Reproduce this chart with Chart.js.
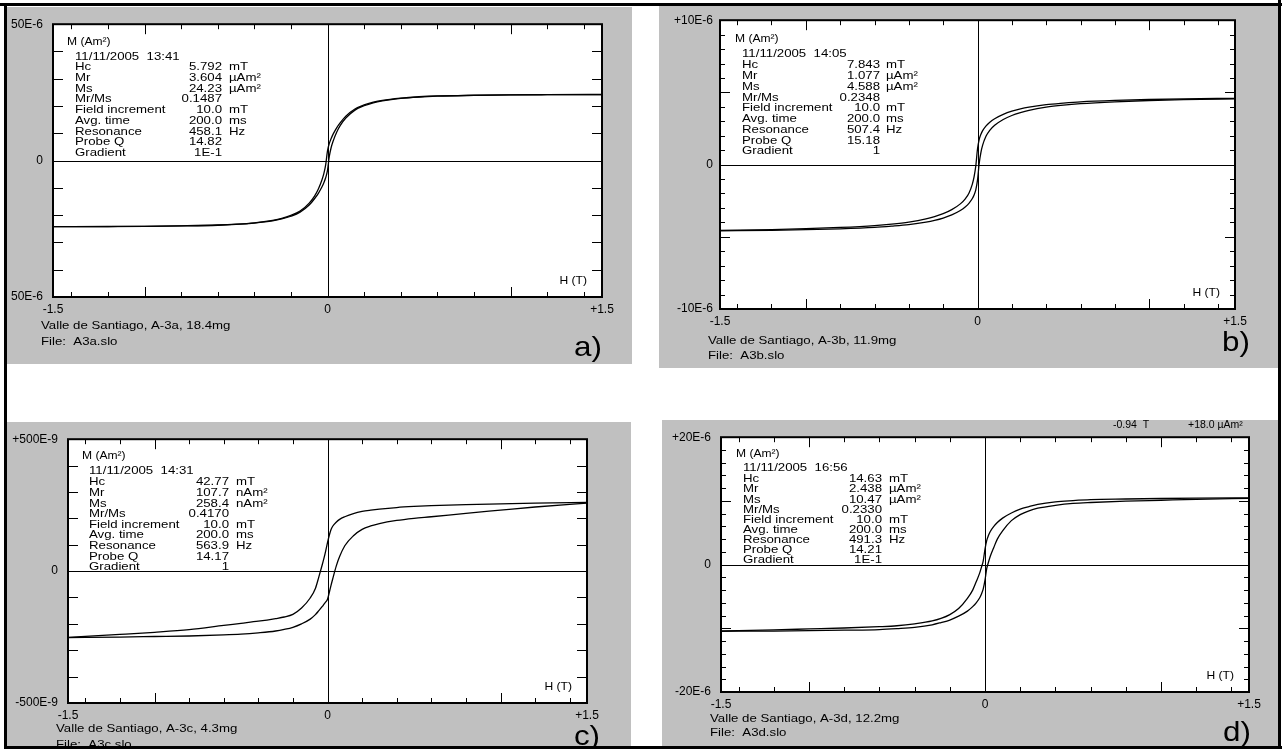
<!DOCTYPE html>
<html>
<head>
<meta charset="utf-8">
<title>Hysteresis loops, Valle de Santiago A-3</title>
<script src="https://cdn.jsdelivr.net/npm/chart.js@4.4.1/dist/chart.umd.min.js"></script>
<style>
  html, body { margin: 0; padding: 0; background: #fff; }
  body { width: 1282px; height: 749px; position: relative; overflow: hidden; }
  .panel { position: absolute; background: #c0c0c0; }
  .panel canvas { display: block; }
  .rule { position: absolute; background: #000; }
</style>
</head>
<body>
<div class="rule" style="left:0;top:3px;width:1282px;height:3px"></div>
<div class="rule" style="left:4px;top:3px;width:3px;height:746px"></div>
<div class="rule" style="left:1278px;top:0;width:3px;height:749px"></div>
<div class="rule" style="left:4px;top:746px;width:1278px;height:3px"></div>

<div class="panel" style="left:7px;top:7px;width:625px;height:357px"><canvas id="loopA" width="625" height="357"></canvas></div>
<div class="panel" style="left:659px;top:6px;width:619px;height:362px"><canvas id="loopB" width="619" height="362"></canvas></div>
<div class="panel" style="left:7px;top:422px;width:624px;height:324px"><canvas id="loopC" width="624" height="324"></canvas></div>
<div class="panel" style="left:662px;top:420px;width:616px;height:326px"><canvas id="loopD" width="616" height="326"></canvas></div>

<script>
// Applied field H (T) at which both branches of every loop are sampled
const fieldT = [-1.5, -1.2, -1.0, -0.8, -0.6, -0.5, -0.4, -0.3, -0.25, -0.2, -0.15, -0.1, -0.07, -0.05, -0.03, -0.02, -0.01,
                0, 0.01, 0.02, 0.03, 0.05, 0.07, 0.1, 0.15, 0.2, 0.25, 0.3, 0.4, 0.5, 0.6, 0.8, 1.0, 1.2, 1.5];

// A-3a, moment in µAm²
const a3aDescending = [-24.2, -24.15, -24.1, -23.9, -23.6, -23.3, -22.8, -21.9, -21.2, -20.1, -18.5, -15.6, -12.9, -10.4, -7.0, -4.8, -1.6,
                       3.6, 6.3, 8.1, 9.6, 12.0, 13.9, 16.3, 18.9, 20.4, 21.4, 22.1, 22.9, 23.4, 23.7, 23.95, 24.1, 24.2, 24.23];
const a3aAscending  = [-24.23, -24.2, -24.1, -23.95, -23.7, -23.4, -22.9, -22.1, -21.4, -20.4, -18.9, -16.3, -13.9, -12.0, -9.6, -8.1, -6.3,
                       -3.6, 1.6, 4.8, 7.0, 10.4, 12.9, 15.6, 18.5, 20.1, 21.2, 21.9, 22.8, 23.3, 23.6, 23.9, 24.1, 24.15, 24.2];

// A-3b, moment in µAm²
const a3bDescending = [-4.56, -4.5, -4.44, -4.35, -4.22, -4.12, -3.98, -3.76, -3.6, -3.4, -3.12, -2.72, -2.35, -1.98, -1.35, -0.85, -0.1,
                       1.08, 1.75, 2.1, 2.35, 2.68, 2.92, 3.18, 3.48, 3.7, 3.86, 3.98, 4.15, 4.26, 4.35, 4.45, 4.51, 4.55, 4.59];
const a3bAscending  = [-4.59, -4.55, -4.51, -4.45, -4.35, -4.26, -4.15, -3.98, -3.86, -3.7, -3.48, -3.18, -2.92, -2.68, -2.35, -2.1, -1.75,
                       -1.08, 0.1, 0.85, 1.35, 1.98, 2.35, 2.72, 3.12, 3.4, 3.6, 3.76, 3.98, 4.12, 4.22, 4.35, 4.44, 4.5, 4.56];

// A-3c, moment in nAm²
const a3cDescending = [-251, -240, -232, -222, -206, -198, -190, -180, -174, -164, -140, -102, -66, -22, 25, 50, 78,
                       108, 135, 157, 170, 185, 196, 206, 218, 226, 231, 235, 241, 245, 248, 252, 255, 258, 260];
const a3cAscending  = [-252, -250, -248, -246, -242, -239, -234, -227, -221, -213, -200, -182, -165, -150, -134, -125, -117,
                       -107, -82, -55, -30, 18, 55, 96, 134, 158, 171, 180, 192, 200, 206, 219, 231, 243, 258];

// A-3d, moment in µAm²
const a3dDescending = [-10.4, -10.25, -10.1, -9.95, -9.75, -9.6, -9.3, -8.85, -8.45, -7.85, -6.9, -5.3, -4.0, -2.7, -1.3, -0.4, 0.6,
                       2.44, 3.8, 4.6, 5.2, 6.0, 6.6, 7.3, 8.1, 8.7, 9.1, 9.45, 9.85, 10.05, 10.2, 10.3, 10.38, 10.43, 10.47];
const a3dAscending  = [-10.47, -10.43, -10.38, -10.3, -10.2, -10.05, -9.85, -9.45, -9.1, -8.7, -8.1, -7.3, -6.6, -6.0, -5.2, -4.6, -3.8,
                       -2.44, -0.6, 0.4, 1.3, 2.7, 4.0, 5.3, 6.9, 7.85, 8.45, 8.85, 9.3, 9.6, 9.75, 9.95, 10.1, 10.25, 10.4];

// Axis tick labels
const fieldTickValues = [-1.5, 0, 1.5];
const fieldTickLabels = ['-1.5', '0', '+1.5'];
const a3aMomentTicks = [-50, 0, 50];
const a3aMomentLabels = ['50E-6', '0', '50E-6'];
const a3bMomentTicks = [-10, 0, 10];
const a3bMomentLabels = ['-10E-6', '0', '+10E-6'];
const a3cMomentTicks = [-500, 0, 500];
const a3cMomentLabels = ['-500E-9', '0', '+500E-9'];
const a3dMomentTicks = [-20, 0, 20];
const a3dMomentLabels = ['-20E-6', '0', '+20E-6'];

// Measurement summary block
const summaryLabels = ['Hc', 'Mr', 'Ms', 'Mr/Ms', 'Field increment', 'Avg. time', 'Resonance', 'Probe Q', 'Gradient'];
const a3aSummary = ['5.792', '3.604', '24.23', '0.1487', '10.0', '200.0', '458.1', '14.82', '1E-1'];
const a3bSummary = ['7.843', '1.077', '4.588', '0.2348', '10.0', '200.0', '507.4', '15.18', '1'];
const a3cSummary = ['42.77', '107.7', '258.4', '0.4170', '10.0', '200.0', '563.9', '14.17', '1'];
const a3dSummary = ['14.63', '2.438', '10.47', '0.2330', '10.0', '200.0', '491.3', '14.21', '1E-1'];
const microUnits = ['mT', 'µAm²', 'µAm²', '', 'mT', 'ms', 'Hz', '', ''];
const nanoUnits  = ['mT', 'nAm²', 'nAm²', '', 'mT', 'ms', 'Hz', '', ''];

const FONT = "'Liberation Sans', Arial, sans-serif";
const TEXT_SIZE = 11.5;
const STRETCH = 1.15;

function stretchedText(ctx, text, x, y, size, align, sx) {
  ctx.save();
  ctx.font = size + 'px ' + FONT;
  ctx.fillStyle = '#000';
  ctx.textAlign = align || 'left';
  ctx.textBaseline = 'middle';
  ctx.translate(x, y);
  ctx.scale(sx || STRETCH, 1);
  ctx.fillText(text, 0, 0);
  ctx.restore();
}

const panelSpecs = new Map();

// Frame, inward tick marks, zero lines and annotation text of one loop panel
const loopFrame = {
  id: 'loopFrame',
  beforeDraw(chart) {
    const { ctx, chartArea: a } = chart;
    ctx.save();
    ctx.fillStyle = '#fff';
    ctx.fillRect(a.left, a.top, a.right - a.left, a.bottom - a.top);
    ctx.restore();
  },
  beforeDatasetsDraw(chart) {
    const { ctx, chartArea: a, scales } = chart;
    const x0 = Math.round(scales.x.getPixelForValue(0)) + 0.5;
    const y0 = Math.round(scales.y.getPixelForValue(0)) + 0.5;
    ctx.save();
    ctx.strokeStyle = '#000';
    ctx.lineWidth = 1;
    ctx.beginPath();
    ctx.moveTo(x0, a.top); ctx.lineTo(x0, a.bottom);
    ctx.moveTo(a.left, y0); ctx.lineTo(a.right, y0);
    ctx.stroke();
    ctx.restore();
  },
  afterDatasetsDraw(chart) {
    const p = panelSpecs.get(chart.canvas);
    const { ctx, chartArea: a, scales } = chart;
    ctx.save();
    ctx.strokeStyle = '#000';
    ctx.lineWidth = 1;
    ctx.beginPath();
    // field ticks every 0.2 T, long ones at ±1 T
    for (let i = -7; i <= 7; i++) {
      if (i === 0) continue;
      const v = i * 0.2;
      const len = Math.abs(Math.abs(v) - 1) < 1e-9 ? p.majorLen : p.minorLen;
      const px = Math.round(scales.x.getPixelForValue(v)) + 0.5;
      ctx.moveTo(px, a.top); ctx.lineTo(px, a.top + len);
      ctx.moveTo(px, a.bottom); ctx.lineTo(px, a.bottom - len);
    }
    // moment ticks
    const n = Math.round(p.yMax / p.yMinorStep);
    for (let i = -n + 1; i < n; i++) {
      if (i === 0) continue;
      const v = i * p.yMinorStep;
      const r = Math.abs(v / p.yMajorStep);
      const len = Math.abs(r - Math.round(r)) < 1e-9 ? p.majorLen : p.minorLen;
      const py = Math.round(scales.y.getPixelForValue(v)) + 0.5;
      ctx.moveTo(a.left, py); ctx.lineTo(a.left + len, py);
      ctx.moveTo(a.right, py); ctx.lineTo(a.right - len, py);
    }
    ctx.stroke();
    ctx.lineWidth = 2;
    ctx.strokeRect(a.left, a.top, a.right - a.left, a.bottom - a.top);
    ctx.restore();

    // summary block
    const s = p.summary;
    stretchedText(ctx, 'M (Am²)', a.left + s.mX, a.top + s.mY, 10.5);
    stretchedText(ctx, p.date, a.left + s.labelX, a.top + s.dateY, TEXT_SIZE);
    summaryLabels.forEach((lab, i) => {
      const y = a.top + s.row0 + i * s.rowH;
      stretchedText(ctx, lab, a.left + s.labelX, y, TEXT_SIZE);
      stretchedText(ctx, p.values[i], a.left + s.valueX, y, TEXT_SIZE, 'right');
      if (p.units[i]) stretchedText(ctx, p.units[i], a.left + s.unitX, y, TEXT_SIZE);
    });
    stretchedText(ctx, 'H (T)', a.right - 15, a.bottom - 16, 11, 'right', 1.1);

    // sample caption and panel letter
    stretchedText(ctx, p.caption, p.footX - p.ox, p.footY1 - p.oy, TEXT_SIZE);
    stretchedText(ctx, p.file, p.footX - p.ox, p.footY2 - p.oy, TEXT_SIZE);
    stretchedText(ctx, p.letter, p.letterX - p.ox, p.letterY - p.oy, 28, 'right', 1.12);
    if (p.readout) {
      p.readout.forEach(r => stretchedText(ctx, r.text, r.x - p.ox, r.y - p.oy, 10, 'left', 1.05));
    }
  }
};

function buildPanel(p) {
  const canvas = document.getElementById(p.canvasId);
  panelSpecs.set(canvas, p);
  const branch = values => fieldT.map((h, i) => ({ x: h, y: values[i] }));
  const lineStyle = { showLine: true, borderColor: '#000', borderWidth: 1.3, pointRadius: 0,
                      cubicInterpolationMode: 'monotone', fill: false };
  return new Chart(canvas, {
    type: 'scatter',
    data: {
      datasets: [
        Object.assign({ label: 'descending', data: branch(p.descending) }, lineStyle),
        Object.assign({ label: 'ascending', data: branch(p.ascending) }, lineStyle)
      ]
    },
    options: {
      responsive: false,
      animation: false,
      devicePixelRatio: 1,
      events: [],
      layout: { padding: { left: 0, top: p.padTop, right: p.padRight, bottom: 0 } },
      plugins: { legend: { display: false }, tooltip: { enabled: false } },
      scales: {
        x: {
          type: 'linear', position: 'bottom', min: -1.5, max: 1.5,
          grid: { display: false, drawTicks: false, tickLength: 0 },
          border: { display: false },
          afterBuildTicks: s => { s.ticks = fieldTickValues.map(v => ({ value: v })); },
          afterFit: s => { s.height = p.axisHeight; },
          ticks: { autoSkip: false, maxRotation: 0, padding: 5, color: '#000',
                   font: { family: FONT, size: 12 },
                   callback: (v, i) => fieldTickLabels[i] }
        },
        y: {
          type: 'linear', position: 'left', min: -p.yMax, max: p.yMax,
          grid: { display: false, drawTicks: false, tickLength: 0 },
          border: { display: false },
          afterBuildTicks: s => { s.ticks = p.yTicks.map(v => ({ value: v })); },
          afterFit: s => { s.width = p.axisWidth; },
          ticks: { autoSkip: false, padding: p.yPad, color: '#000',
                   font: { family: FONT, size: 12 },
                   callback: (v, i) => p.yLabels[i] }
        }
      }
    },
    plugins: [loopFrame]
  });
}

buildPanel({
  canvasId: 'loopA', ox: 7, oy: 7,
  axisWidth: 46, padTop: 17, padRight: 30, axisHeight: 67, yPad: 10,
  yMax: 50, yMinorStep: 10, yMajorStep: 10, minorLen: 5, majorLen: 10,
  yTicks: a3aMomentTicks, yLabels: a3aMomentLabels,
  descending: a3aDescending, ascending: a3aAscending,
  date: '11/11/2005  13:41', values: a3aSummary, units: microUnits,
  summary: { mX: 14, mY: 18, labelX: 22, dateY: 33, row0: 43, rowH: 10.7, valueX: 169, unitX: 176 },
  caption: 'Valle de Santiago, A-3a, 18.4mg', file: 'File:  A3a.slo',
  footX: 41, footY1: 326, footY2: 342, letter: 'a)', letterX: 602, letterY: 348
});

buildPanel({
  canvasId: 'loopB', ox: 659, oy: 6,
  axisWidth: 61, padTop: 10, padRight: 43, axisHeight: 59, yPad: 7,
  yMax: 10, yMinorStep: 1, yMajorStep: 5, minorLen: 5, majorLen: 10,
  yTicks: a3bMomentTicks, yLabels: a3bMomentLabels,
  descending: a3bDescending, ascending: a3bAscending,
  date: '11/11/2005  14:05', values: a3bSummary, units: microUnits,
  summary: { mX: 15, mY: 19, labelX: 22, dateY: 34, row0: 45, rowH: 10.75, valueX: 160, unitX: 166 },
  caption: 'Valle de Santiago, A-3b, 11.9mg', file: 'File:  A3b.slo',
  footX: 708, footY1: 341, footY2: 356, letter: 'b)', letterX: 1250, letterY: 343
});

buildPanel({
  canvasId: 'loopC', ox: 7, oy: 422,
  axisWidth: 61, padTop: 12, padRight: 44, axisHeight: 43, yPad: 10,
  yMax: 500, yMinorStep: 100, yMajorStep: 100, minorLen: 5, majorLen: 10,
  yTicks: a3cMomentTicks, yLabels: a3cMomentLabels,
  descending: a3cDescending, ascending: a3cAscending,
  date: '11/11/2005  14:31', values: a3cSummary, units: nanoUnits,
  summary: { mX: 14, mY: 17, labelX: 21, dateY: 32, row0: 43, rowH: 10.6, valueX: 161, unitX: 168 },
  caption: 'Valle de Santiago, A-3c, 4.3mg', file: 'File:  A3c.slo',
  footX: 56, footY1: 729, footY2: 745, letter: 'c)', letterX: 600, letterY: 737
});

buildPanel({
  canvasId: 'loopD', ox: 662, oy: 420,
  axisWidth: 59, padTop: 11, padRight: 29, axisHeight: 54, yPad: 10,
  yMax: 20, yMinorStep: 2, yMajorStep: 10, minorLen: 5, majorLen: 10,
  yTicks: a3dMomentTicks, yLabels: a3dMomentLabels,
  descending: a3dDescending, ascending: a3dAscending,
  date: '11/11/2005  16:56', values: a3dSummary, units: microUnits,
  summary: { mX: 15, mY: 17, labelX: 22, dateY: 31, row0: 42, rowH: 10.1, valueX: 161, unitX: 168 },
  caption: 'Valle de Santiago, A-3d, 12.2mg', file: 'File:  A3d.slo',
  footX: 710, footY1: 719, footY2: 733, letter: 'd)', letterX: 1251, letterY: 733,
  readout: [{ text: '-0.94  T', x: 1113, y: 425 }, { text: '+18.0 µAm²', x: 1188, y: 425 }]
});
</script>
</body>
</html>
